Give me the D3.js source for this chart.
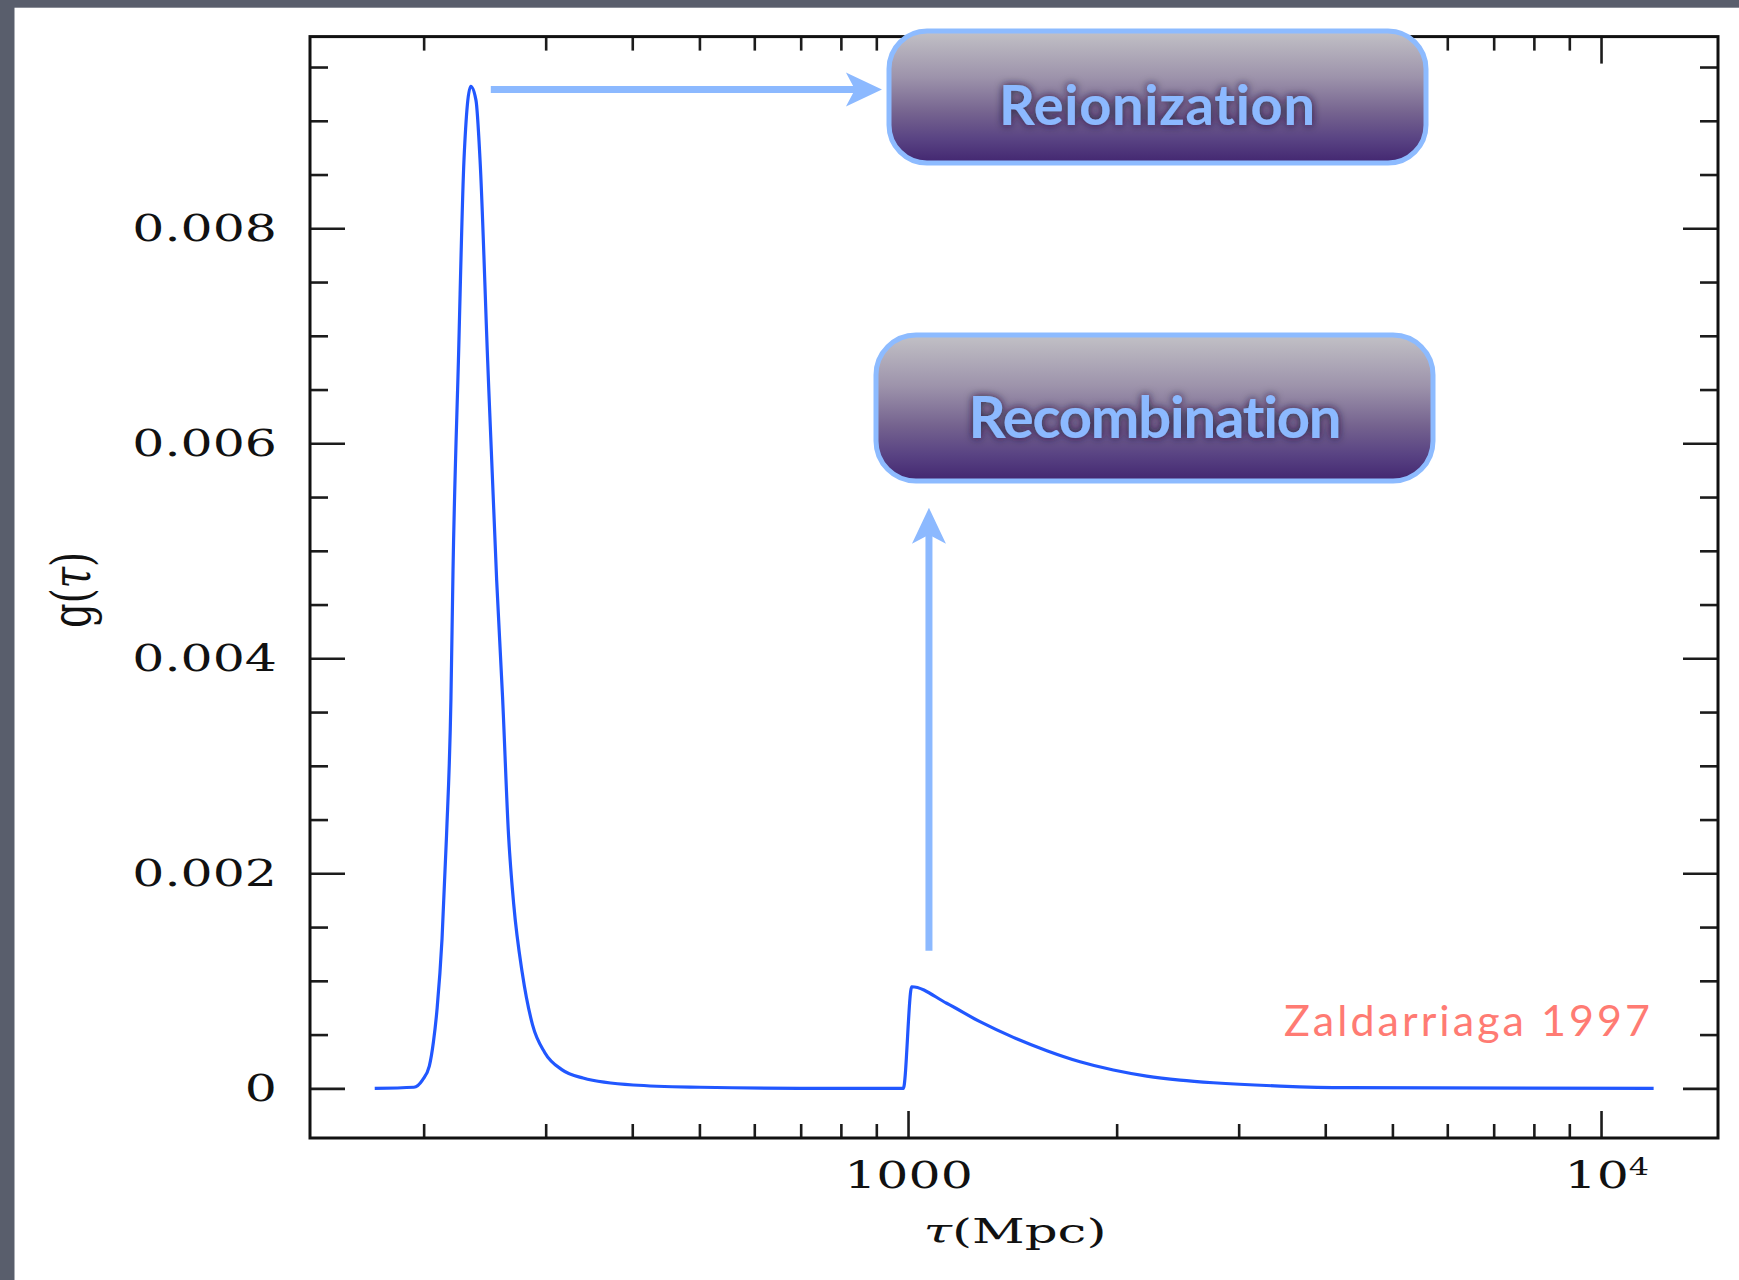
<!DOCTYPE html>
<html>
<head>
<meta charset="utf-8">
<script src="https://cdn.jsdelivr.net/npm/d3@7"></script>
<style>
  body { margin: 0; background: #595e6c; }
  svg { display: block; }
  text { font-variant-ligatures: none; font-feature-settings: "liga" 0, "clig" 0; }
</style>
</head>
<body>
<svg id="chart" width="1739" height="1280"></svg>
<script>
// Visibility function g(tau) versus conformal time tau (Mpc)
const tau = [170, 193.6, 199.2, 203.8, 206.6, 209.2, 212.6, 215.8, 219.0, 220.5, 224.5, 228.7,
             233.9, 238.0, 241.2, 247.4, 254.9, 260.0, 265.2, 269.8, 277.6, 287.2, 299.0, 316.5,
             339.6, 401.1, 501, 698, 984.5, 1012.4, 1137, 1270, 1419, 1586, 1771, 1978, 2210,
             2469, 2757, 3442, 4296, 11910];
const g = [0, 0.00001, 0.000077, 0.000207, 0.000431, 0.00075, 0.00139, 0.00235, 0.00363, 0.00482,
           0.00677, 0.00864, 0.00932, 0.00919, 0.00864, 0.00677, 0.00473, 0.00363, 0.00235, 0.00171,
           0.00107, 0.00059, 0.000334, 0.000174, 0.000096, 0.000031, 0.00001, 0, 0, 0.000945,
           0.000791, 0.00062, 0.000474, 0.00035, 0.000247, 0.00017, 0.000114, 0.000077, 0.000052,
           0.000021, 0.000006, 0];

const xMajorTicks = [1000, 10000];
const xMinorTicks = [200, 300, 400, 500, 600, 700, 800, 900, 2000, 3000, 4000, 5000, 6000, 7000, 8000, 9000];
const xTickLabels = ["1000", "10"];
const xTickExponents = ["", "4"];
const yMajorTicks = [0, 0.002, 0.004, 0.006, 0.008];
const yTickLabels = ["0", "0.002", "0.004", "0.006", "0.008"];
const yMinorTicks = [0.0005, 0.001, 0.0015, 0.0025, 0.003, 0.0035, 0.0045, 0.005, 0.0055,
                     0.0065, 0.007, 0.0075, 0.0085, 0.009, 0.0095];
const xTitleParts = [["τ", true], ["(Mpc)", false]];
const yTitleParts = [["g(", false], ["τ", true], [")", false]];
const boxLabels = ["Reionization", "Recombination"];
const credit = "Zaldarriaga 1997";

// Annotation arrows, in data units
const reionArrow = { tauFrom: 250, tauTo: 917, g: 0.00929 };
const recombArrow = { tau: 1072, gFrom: 0.00128, gTo: 0.0054 };

const svg = d3.select("#chart");
const W = 1739, H = 1280;
const plot = { left: 310, right: 1718, top: 36.6, bottom: 1138 };

// white slide panel
svg.append("rect").attr("x", 14.5).attr("y", 7.7).attr("width", W - 14.5).attr("height", H - 7.7)
  .attr("fill", "#ffffff");

const x = d3.scaleLog().domain([137.1, 14750]).range([plot.left, plot.right]);
const y = d3.scaleLinear().domain([-0.000462, 0.009783]).range([plot.bottom, plot.top]);

const defs = svg.append("defs");
const grad = defs.append("linearGradient").attr("id", "boxFill")
  .attr("x1", 0).attr("y1", 0).attr("x2", 0).attr("y2", 1);
[[0, "#c2c1c6"], [0.35, "#9d93ab"], [0.62, "#75638f"], [0.82, "#594383"], [1, "#422670"]]
  .forEach(([o, c]) => grad.append("stop").attr("offset", o).attr("stop-color", c));

const glow = defs.append("filter").attr("id", "glow")
  .attr("x", "-10%").attr("y", "-30%").attr("width", "120%").attr("height", "160%");
glow.append("feGaussianBlur").attr("in", "SourceAlpha").attr("stdDeviation", 4.5).attr("result", "b");
glow.append("feFlood").attr("flood-color", "#1d1233").attr("flood-opacity", 0.9);
glow.append("feComposite").attr("in2", "b").attr("operator", "in").attr("result", "s");
const merge = glow.append("feMerge");
merge.append("feMergeNode").attr("in", "s");
merge.append("feMergeNode").attr("in", "SourceGraphic");

const tickColor = "#1c1c1c";
function styleAxis(sel) {
  sel.select(".domain").remove();
  sel.selectAll(".tick line").attr("stroke", tickColor).attr("stroke-width", 2.6);
}
const serif = "'DejaVu Serif', serif";

// left axis
const yl = svg.append("g").attr("transform", `translate(${plot.left},0)`);
yl.call(d3.axisLeft(y).tickValues(yMinorTicks).tickSize(-18).tickFormat(""));
styleAxis(yl);
const ylm = svg.append("g").attr("transform", `translate(${plot.left},0)`);
ylm.call(d3.axisLeft(y).tickValues(yMajorTicks).tickSize(-35).tickPadding(0)
  .tickFormat((d, i) => yTickLabels[i]));
styleAxis(ylm);
ylm.attr("font-family", serif).attr("font-size", 38);
ylm.selectAll(".tick text").attr("x", 0).attr("fill", "#111")
  .attr("transform", "translate(-33,0) scale(1.33,1)");

// right axis
const yr = svg.append("g").attr("transform", `translate(${plot.right},0)`);
yr.call(d3.axisRight(y).tickValues(yMinorTicks).tickSize(-18).tickFormat(""));
styleAxis(yr);
const yrm = svg.append("g").attr("transform", `translate(${plot.right},0)`);
yrm.call(d3.axisRight(y).tickValues(yMajorTicks).tickSize(-35).tickFormat(""));
styleAxis(yrm);

// bottom axis
const xb = svg.append("g").attr("transform", `translate(0,${plot.bottom})`);
xb.call(d3.axisBottom(x).tickValues(xMinorTicks).tickSize(-14).tickFormat(""));
styleAxis(xb);
const xbm = svg.append("g").attr("transform", `translate(0,${plot.bottom})`);
xbm.call(d3.axisBottom(x).tickValues(xMajorTicks).tickSize(-27)
  .tickFormat((d, i) => xTickLabels[i]));
styleAxis(xbm);
xbm.attr("font-family", serif).attr("font-size", 38);
xbm.selectAll(".tick text").attr("y", 50).attr("dy", 0).attr("fill", "#111")
  .attr("transform", "scale(1.33,1)")
  .each(function (d, i) {
    if (xTickExponents[i]) {
      d3.select(this).attr("x", 4);
      d3.select(this).append("tspan").attr("dy", -13).attr("font-size", 24).text(xTickExponents[i]);
    }
  });

// top axis
const xt = svg.append("g").attr("transform", `translate(0,${plot.top})`);
xt.call(d3.axisTop(x).tickValues(xMinorTicks).tickSize(-14).tickFormat(""));
styleAxis(xt);
const xtm = svg.append("g").attr("transform", `translate(0,${plot.top})`);
xtm.call(d3.axisTop(x).tickValues(xMajorTicks).tickSize(-27).tickFormat(""));
styleAxis(xtm);

// frame
svg.append("rect").attr("x", plot.left).attr("y", plot.top)
  .attr("width", plot.right - plot.left).attr("height", plot.bottom - plot.top)
  .attr("fill", "none").attr("stroke", "#111").attr("stroke-width", 3);

// axis titles
function addParts(textSel, parts) {
  parts.forEach(([s, it]) => textSel.append("tspan").attr("font-style", it ? "italic" : "normal").text(s));
}
const xTitleText = svg.append("text").attr("x", 1015).attr("y", 1243).attr("text-anchor", "middle")
  .attr("font-family", serif).attr("font-size", 34).attr("fill", "#111")
  .attr("textLength", 183).attr("lengthAdjust", "spacingAndGlyphs");
addParts(xTitleText, xTitleParts);
const yTitleText = svg.append("text").attr("transform", "translate(90,590) rotate(-90)")
  .attr("text-anchor", "middle")
  .attr("font-family", serif).attr("font-size", 54).attr("fill", "#111")
  .attr("textLength", 76).attr("lengthAdjust", "spacingAndGlyphs");
addParts(yTitleText, yTitleParts);

// curve
const pts = tau.map((t, i) => [t, g[i]]);
svg.append("path").datum(pts)
  .attr("fill", "none").attr("stroke", "#2157ff").attr("stroke-width", 3.2)
  .attr("stroke-linejoin", "round")
  .attr("d", d3.line().x(d => x(d[0])).y(d => y(d[1])).curve(d3.curveMonotoneX));

// arrows
const arrowColor = "#8cb9ff";
function arrow(x0, y0, x1, y1) {
  const ang = Math.atan2(y1 - y0, x1 - x0);
  const L = 36, Wd = 17, notch = 9;
  const g0 = svg.append("g").attr("transform", `translate(${x1},${y1}) rotate(${ang * 180 / Math.PI})`);
  const len = Math.hypot(x1 - x0, y1 - y0);
  g0.append("line").attr("x1", -len).attr("y1", 0).attr("x2", -notch - 4).attr("y2", 0)
    .attr("stroke", arrowColor).attr("stroke-width", 7);
  g0.append("path").attr("d", `M0,0 L${-L},${-Wd} L${-L + notch},0 L${-L},${Wd} Z`)
    .attr("fill", arrowColor);
}
arrow(x(reionArrow.tauFrom), y(reionArrow.g), x(reionArrow.tauTo), y(reionArrow.g));
arrow(x(recombArrow.tau), y(recombArrow.gFrom), x(recombArrow.tau), y(recombArrow.gTo));

// label boxes
const boxes = [
  { x: 889, y: 31, w: 537, h: 132, rx: 38, label: boxLabels[0], tx: 1157, ty: 125, size: 56, len: 316 },
  { x: 876, y: 335, w: 557, h: 146, rx: 40, label: boxLabels[1], tx: 1155, ty: 438, size: 58, len: 373 }
];
boxes.forEach(b => {
  svg.append("rect").attr("x", b.x).attr("y", b.y).attr("width", b.w).attr("height", b.h)
    .attr("rx", b.rx).attr("fill", "url(#boxFill)").attr("stroke", "#8dbbff").attr("stroke-width", 5);
  svg.append("text").attr("x", b.tx).attr("y", b.ty).attr("text-anchor", "middle")
    .attr("font-family", "'Comic Sans MS', Lato, sans-serif").attr("font-weight", 700)
    .attr("font-size", b.size).attr("fill", "#8cb9ff")
    .attr("textLength", b.len).attr("filter", "url(#glow)")
    .text(b.label);
});

// credit
svg.append("text").attr("x", 1650).attr("y", 1036).attr("text-anchor", "end")
  .attr("font-family", "'Comic Sans MS', Lato, sans-serif").attr("font-size", 43)
  .attr("fill", "#ff7b73").attr("textLength", 366)
  .text(credit);
</script>
</body>
</html>
